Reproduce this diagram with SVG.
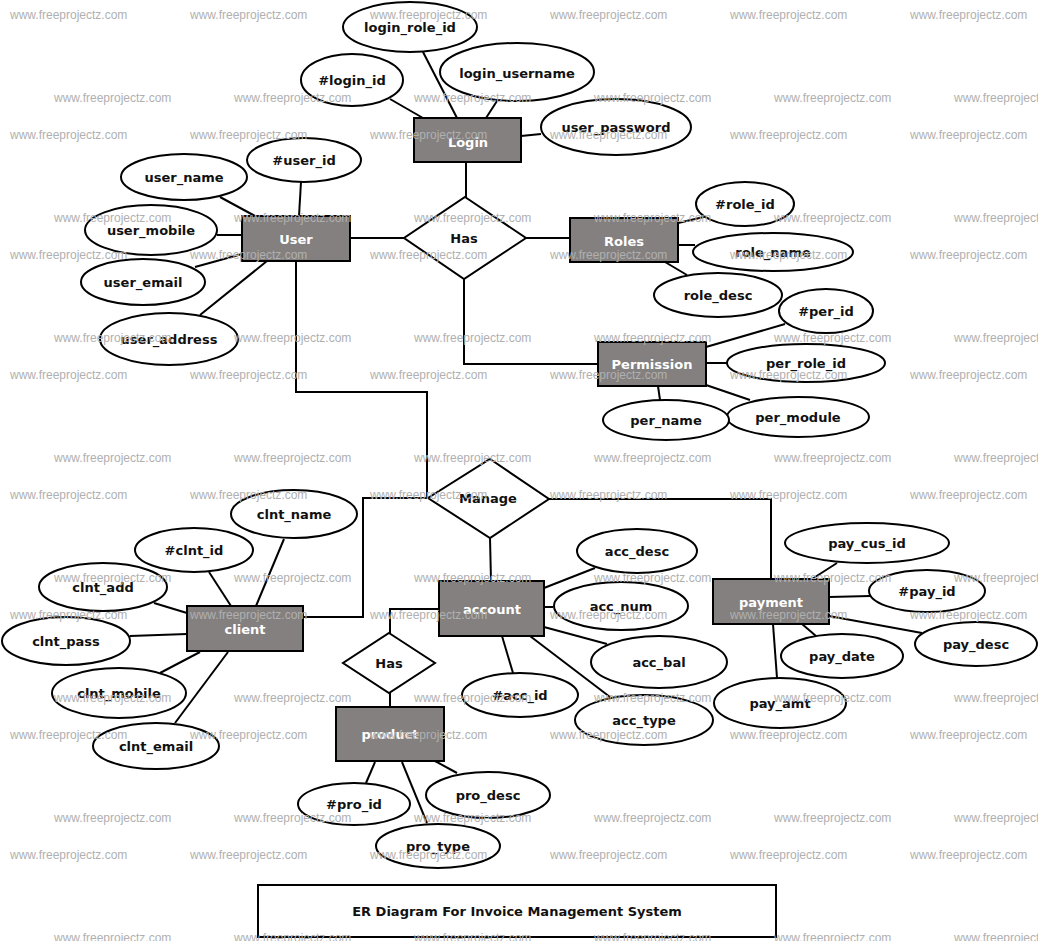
<svg xmlns="http://www.w3.org/2000/svg" width="1038" height="941" viewBox="0 0 1038 941">
<style>
.ent{fill:#84807f;stroke:#000;stroke-width:2}
.att{fill:#fff;stroke:#000;stroke-width:2}
.rel{fill:#fff;stroke:#000;stroke-width:2}
.ln{stroke:#000;stroke-width:2;fill:none}
.t{font-family:"DejaVu Sans","Noto Sans",sans-serif;font-weight:bold;font-size:13px;fill:#111;text-anchor:middle}
.et{font-family:"DejaVu Sans","Noto Sans",sans-serif;font-weight:bold;font-size:13px;fill:#fff;text-anchor:middle}
.wm{font-family:"Liberation Sans",Arial,sans-serif;font-size:12px;fill:#b0b0b0}
</style>
<rect width="1038" height="941" fill="#fff"/>
<g id="connectors">
<!-- Login -->
<line class="ln" x1="423" y1="52" x2="457" y2="118"/>
<line class="ln" x1="390" y1="99" x2="423" y2="118"/>
<line class="ln" x1="497" y1="101" x2="486" y2="118"/>
<line class="ln" x1="521" y1="136" x2="541" y2="134"/>
<line class="ln" x1="466" y1="162" x2="466" y2="198"/>
<!-- User -->
<line class="ln" x1="301" y1="182" x2="299" y2="216"/>
<line class="ln" x1="220" y1="197" x2="255" y2="216"/>
<line class="ln" x1="217" y1="235" x2="242" y2="235"/>
<line class="ln" x1="195" y1="267" x2="242" y2="254"/>
<line class="ln" x1="200" y1="315" x2="267" y2="261"/>
<line class="ln" x1="350" y1="238" x2="404" y2="238"/>
<polyline class="ln" points="296,261 296,392 427,392 427,498"/>
<!-- Roles -->
<line class="ln" x1="526" y1="238" x2="570" y2="238"/>
<line class="ln" x1="678" y1="223" x2="708" y2="216"/>
<line class="ln" x1="678" y1="245" x2="695" y2="245"/>
<line class="ln" x1="665" y1="262" x2="687" y2="275"/>
<!-- Permission -->
<polyline class="ln" points="464,279 464,364 598,364"/>
<line class="ln" x1="706" y1="347" x2="785" y2="324"/>
<line class="ln" x1="706" y1="363" x2="727" y2="363"/>
<line class="ln" x1="706" y1="385" x2="750" y2="400"/>
<line class="ln" x1="658" y1="386" x2="660" y2="400"/>
<!-- Manage -->
<polyline class="ln" points="549,499 771,499 771,579"/>
<polyline class="ln" points="428,498 363,498 363,617 303,617"/>
<line class="ln" x1="490" y1="538" x2="491" y2="581"/>
<!-- account -->
<line class="ln" x1="544" y1="588" x2="595" y2="568"/>
<line class="ln" x1="544" y1="607" x2="553" y2="607"/>
<line class="ln" x1="544" y1="627" x2="607" y2="644"/>
<line class="ln" x1="502" y1="636" x2="513" y2="673"/>
<line class="ln" x1="530" y1="636" x2="610" y2="697"/>
<polyline class="ln" points="439,609 390,609 390,633"/>
<line class="ln" x1="390" y1="693" x2="390" y2="707"/>
<!-- product -->
<line class="ln" x1="375" y1="762" x2="366" y2="783"/>
<line class="ln" x1="402" y1="762" x2="427" y2="823"/>
<line class="ln" x1="435" y1="761" x2="457" y2="773"/>
<!-- client -->
<line class="ln" x1="284" y1="539" x2="256" y2="606"/>
<line class="ln" x1="209" y1="572" x2="231" y2="606"/>
<line class="ln" x1="154" y1="603" x2="187" y2="613"/>
<line class="ln" x1="130" y1="636" x2="187" y2="634"/>
<line class="ln" x1="160" y1="673" x2="200" y2="652"/>
<line class="ln" x1="175" y1="723" x2="228" y2="652"/>
<!-- payment -->
<line class="ln" x1="812" y1="579" x2="837" y2="563"/>
<line class="ln" x1="829" y1="597" x2="870" y2="596"/>
<line class="ln" x1="829" y1="616" x2="922" y2="633"/>
<line class="ln" x1="802" y1="624" x2="816" y2="636"/>
<line class="ln" x1="773" y1="624" x2="777" y2="678"/>
</g>

<g id="login"><rect class="ent" x="414" y="118" width="107" height="44"/><text class="et" x="468" y="147">Login</text></g>
<g id="login_role_id"><ellipse class="att" cx="410" cy="27" rx="67" ry="25"/><text class="t" x="410" y="32">login_role_id</text></g>
<g id="login_id"><ellipse class="att" cx="352" cy="80" rx="51" ry="26"/><text class="t" x="352" y="85">#login_id</text></g>
<g id="login_username"><ellipse class="att" cx="517" cy="72" rx="77" ry="29"/><text class="t" x="517" y="78">login_username</text></g>
<g id="user_password"><ellipse class="att" cx="616" cy="127" rx="75" ry="28"/><text class="t" x="616" y="132">user_password</text></g>

<g id="user"><rect class="ent" x="242" y="216" width="108" height="45"/><text class="et" x="296" y="244">User</text></g>
<g id="user_id"><ellipse class="att" cx="304" cy="160" rx="57" ry="22"/><text class="t" x="304" y="165">#user_id</text></g>
<g id="user_name"><ellipse class="att" cx="184" cy="177" rx="63" ry="23"/><text class="t" x="184" y="182">user_name</text></g>
<g id="user_mobile"><ellipse class="att" cx="151" cy="230" rx="66" ry="25"/><text class="t" x="151" y="235">user_mobile</text></g>
<g id="user_email"><ellipse class="att" cx="143" cy="282" rx="62" ry="23"/><text class="t" x="143" y="287">user_email</text></g>
<g id="user_address"><ellipse class="att" cx="169" cy="339" rx="69" ry="26"/><text class="t" x="169" y="344">user_address</text></g>

<g id="has_top"><polygon class="rel" points="465,197 526,238 464,279 404,238"/><text class="t" x="464" y="243">Has</text></g>

<g id="roles"><rect class="ent" x="570" y="218" width="108" height="44"/><text class="et" x="624" y="246">Roles</text></g>
<g id="role_id"><ellipse class="att" cx="745" cy="204" rx="49" ry="22"/><text class="t" x="745" y="209">#role_id</text></g>
<g id="role_name"><ellipse class="att" cx="773" cy="252" rx="80" ry="19"/><text class="t" x="773" y="257">role_name</text></g>
<g id="role_desc"><ellipse class="att" cx="718" cy="295" rx="64" ry="22"/><text class="t" x="718" y="300">role_desc</text></g>

<g id="permission"><rect class="ent" x="598" y="342" width="108" height="44"/><text class="et" x="652" y="369">Permission</text></g>
<g id="per_id"><ellipse class="att" cx="826" cy="311" rx="47" ry="22"/><text class="t" x="826" y="316">#per_id</text></g>
<g id="per_role_id"><ellipse class="att" cx="806" cy="363" rx="79" ry="19"/><text class="t" x="806" y="368">per_role_id</text></g>
<g id="per_module"><ellipse class="att" cx="798" cy="417" rx="71" ry="20"/><text class="t" x="798" y="422">per_module</text></g>
<g id="per_name"><ellipse class="att" cx="666" cy="420" rx="63" ry="20"/><text class="t" x="666" y="425">per_name</text></g>

<g id="manage"><polygon class="rel" points="490,459 549,499 490,538 428,498"/><text class="t" x="488" y="503">Manage</text></g>

<g id="client"><rect class="ent" x="187" y="606" width="116" height="45"/><text class="et" x="245" y="634">client</text></g>
<g id="clnt_name"><ellipse class="att" cx="294" cy="514" rx="63" ry="24"/><text class="t" x="294" y="519">clnt_name</text></g>
<g id="clnt_id"><ellipse class="att" cx="194" cy="550" rx="59" ry="22"/><text class="t" x="194" y="555">#clnt_id</text></g>
<g id="clnt_add"><ellipse class="att" cx="103" cy="587" rx="64" ry="24"/><text class="t" x="103" y="592">clnt_add</text></g>
<g id="clnt_pass"><ellipse class="att" cx="66" cy="641" rx="64" ry="24"/><text class="t" x="66" y="646">clnt_pass</text></g>
<g id="clnt_mobile"><ellipse class="att" cx="119" cy="693" rx="67" ry="25"/><text class="t" x="119" y="698">clnt_mobile</text></g>
<g id="clnt_email"><ellipse class="att" cx="156" cy="746" rx="63" ry="23"/><text class="t" x="156" y="751">clnt_email</text></g>

<g id="account"><rect class="ent" x="439" y="581" width="105" height="55"/><text class="et" x="492" y="614">account</text></g>
<g id="acc_desc"><ellipse class="att" cx="637" cy="551" rx="60" ry="22"/><text class="t" x="637" y="556">acc_desc</text></g>
<g id="acc_num"><ellipse class="att" cx="621" cy="606" rx="67" ry="24"/><text class="t" x="621" y="611">acc_num</text></g>
<g id="acc_bal"><ellipse class="att" cx="659" cy="662" rx="68" ry="26"/><text class="t" x="659" y="667">acc_bal</text></g>
<g id="acc_id"><ellipse class="att" cx="520" cy="695" rx="58" ry="22"/><text class="t" x="520" y="700">#acc_id</text></g>
<g id="acc_type"><ellipse class="att" cx="644" cy="720" rx="69" ry="25"/><text class="t" x="644" y="725">acc_type</text></g>

<g id="has_bottom"><polygon class="rel" points="389,633 435,663 389,693 343,663"/><text class="t" x="389" y="668">Has</text></g>

<g id="product"><rect class="ent" x="336" y="707" width="108" height="54"/><text class="et" x="390" y="739">product</text></g>
<g id="pro_id"><ellipse class="att" cx="354" cy="804" rx="56" ry="21"/><text class="t" x="354" y="809">#pro_id</text></g>
<g id="pro_desc"><ellipse class="att" cx="488" cy="795" rx="62" ry="23"/><text class="t" x="488" y="800">pro_desc</text></g>
<g id="pro_type"><ellipse class="att" cx="438" cy="846" rx="62" ry="22"/><text class="t" x="438" y="851">pro_type</text></g>

<g id="payment"><rect class="ent" x="713" y="579" width="116" height="45"/><text class="et" x="771" y="607">payment</text></g>
<g id="pay_cus_id"><ellipse class="att" cx="867" cy="543" rx="82" ry="20"/><text class="t" x="867" y="548">pay_cus_id</text></g>
<g id="pay_id"><ellipse class="att" cx="927" cy="591" rx="58" ry="21"/><text class="t" x="927" y="596">#pay_id</text></g>
<g id="pay_desc"><ellipse class="att" cx="976" cy="644" rx="61" ry="22"/><text class="t" x="976" y="649">pay_desc</text></g>
<g id="pay_date"><ellipse class="att" cx="842" cy="656" rx="61" ry="22"/><text class="t" x="842" y="661">pay_date</text></g>
<g id="pay_amt"><ellipse class="att" cx="780" cy="703" rx="66" ry="25"/><text class="t" x="780" y="708">pay_amt</text></g>

<g id="title"><rect x="258" y="885" width="518" height="52" fill="#fff" stroke="#000" stroke-width="2"/><text class="t" x="517" y="916">ER Diagram For Invoice Management System</text></g>

<g id="watermark" class="wm">
<text x="10" y="19">www.freeprojectz.com</text><text x="190" y="19">www.freeprojectz.com</text><text x="370" y="19">www.freeprojectz.com</text><text x="550" y="19">www.freeprojectz.com</text><text x="730" y="19">www.freeprojectz.com</text><text x="910" y="19">www.freeprojectz.com</text>
<text x="54" y="102">www.freeprojectz.com</text><text x="234" y="102">www.freeprojectz.com</text><text x="414" y="102">www.freeprojectz.com</text><text x="594" y="102">www.freeprojectz.com</text><text x="774" y="102">www.freeprojectz.com</text><text x="954" y="102">www.freeprojectz.com</text>
<text x="10" y="139">www.freeprojectz.com</text><text x="190" y="139">www.freeprojectz.com</text><text x="370" y="139">www.freeprojectz.com</text><text x="550" y="139">www.freeprojectz.com</text><text x="730" y="139">www.freeprojectz.com</text><text x="910" y="139">www.freeprojectz.com</text>
<text x="54" y="222">www.freeprojectz.com</text><text x="234" y="222">www.freeprojectz.com</text><text x="414" y="222">www.freeprojectz.com</text><text x="594" y="222">www.freeprojectz.com</text><text x="774" y="222">www.freeprojectz.com</text><text x="954" y="222">www.freeprojectz.com</text>
<text x="10" y="259">www.freeprojectz.com</text><text x="190" y="259">www.freeprojectz.com</text><text x="370" y="259">www.freeprojectz.com</text><text x="550" y="259">www.freeprojectz.com</text><text x="730" y="259">www.freeprojectz.com</text><text x="910" y="259">www.freeprojectz.com</text>
<text x="54" y="342">www.freeprojectz.com</text><text x="234" y="342">www.freeprojectz.com</text><text x="414" y="342">www.freeprojectz.com</text><text x="594" y="342">www.freeprojectz.com</text><text x="774" y="342">www.freeprojectz.com</text><text x="954" y="342">www.freeprojectz.com</text>
<text x="10" y="379">www.freeprojectz.com</text><text x="190" y="379">www.freeprojectz.com</text><text x="370" y="379">www.freeprojectz.com</text><text x="550" y="379">www.freeprojectz.com</text><text x="730" y="379">www.freeprojectz.com</text><text x="910" y="379">www.freeprojectz.com</text>
<text x="54" y="462">www.freeprojectz.com</text><text x="234" y="462">www.freeprojectz.com</text><text x="414" y="462">www.freeprojectz.com</text><text x="594" y="462">www.freeprojectz.com</text><text x="774" y="462">www.freeprojectz.com</text><text x="954" y="462">www.freeprojectz.com</text>
<text x="10" y="499">www.freeprojectz.com</text><text x="190" y="499">www.freeprojectz.com</text><text x="370" y="499">www.freeprojectz.com</text><text x="550" y="499">www.freeprojectz.com</text><text x="730" y="499">www.freeprojectz.com</text><text x="910" y="499">www.freeprojectz.com</text>
<text x="54" y="582">www.freeprojectz.com</text><text x="234" y="582">www.freeprojectz.com</text><text x="414" y="582">www.freeprojectz.com</text><text x="594" y="582">www.freeprojectz.com</text><text x="774" y="582">www.freeprojectz.com</text><text x="954" y="582">www.freeprojectz.com</text>
<text x="10" y="619">www.freeprojectz.com</text><text x="190" y="619">www.freeprojectz.com</text><text x="370" y="619">www.freeprojectz.com</text><text x="550" y="619">www.freeprojectz.com</text><text x="730" y="619">www.freeprojectz.com</text><text x="910" y="619">www.freeprojectz.com</text>
<text x="54" y="702">www.freeprojectz.com</text><text x="234" y="702">www.freeprojectz.com</text><text x="414" y="702">www.freeprojectz.com</text><text x="594" y="702">www.freeprojectz.com</text><text x="774" y="702">www.freeprojectz.com</text><text x="954" y="702">www.freeprojectz.com</text>
<text x="10" y="739">www.freeprojectz.com</text><text x="190" y="739">www.freeprojectz.com</text><text x="370" y="739">www.freeprojectz.com</text><text x="550" y="739">www.freeprojectz.com</text><text x="730" y="739">www.freeprojectz.com</text><text x="910" y="739">www.freeprojectz.com</text>
<text x="54" y="822">www.freeprojectz.com</text><text x="234" y="822">www.freeprojectz.com</text><text x="414" y="822">www.freeprojectz.com</text><text x="594" y="822">www.freeprojectz.com</text><text x="774" y="822">www.freeprojectz.com</text><text x="954" y="822">www.freeprojectz.com</text>
<text x="10" y="859">www.freeprojectz.com</text><text x="190" y="859">www.freeprojectz.com</text><text x="370" y="859">www.freeprojectz.com</text><text x="550" y="859">www.freeprojectz.com</text><text x="730" y="859">www.freeprojectz.com</text><text x="910" y="859">www.freeprojectz.com</text>
<text x="54" y="942">www.freeprojectz.com</text><text x="234" y="942">www.freeprojectz.com</text><text x="414" y="942">www.freeprojectz.com</text><text x="594" y="942">www.freeprojectz.com</text><text x="774" y="942">www.freeprojectz.com</text><text x="954" y="942">www.freeprojectz.com</text>
</g>
</svg>
